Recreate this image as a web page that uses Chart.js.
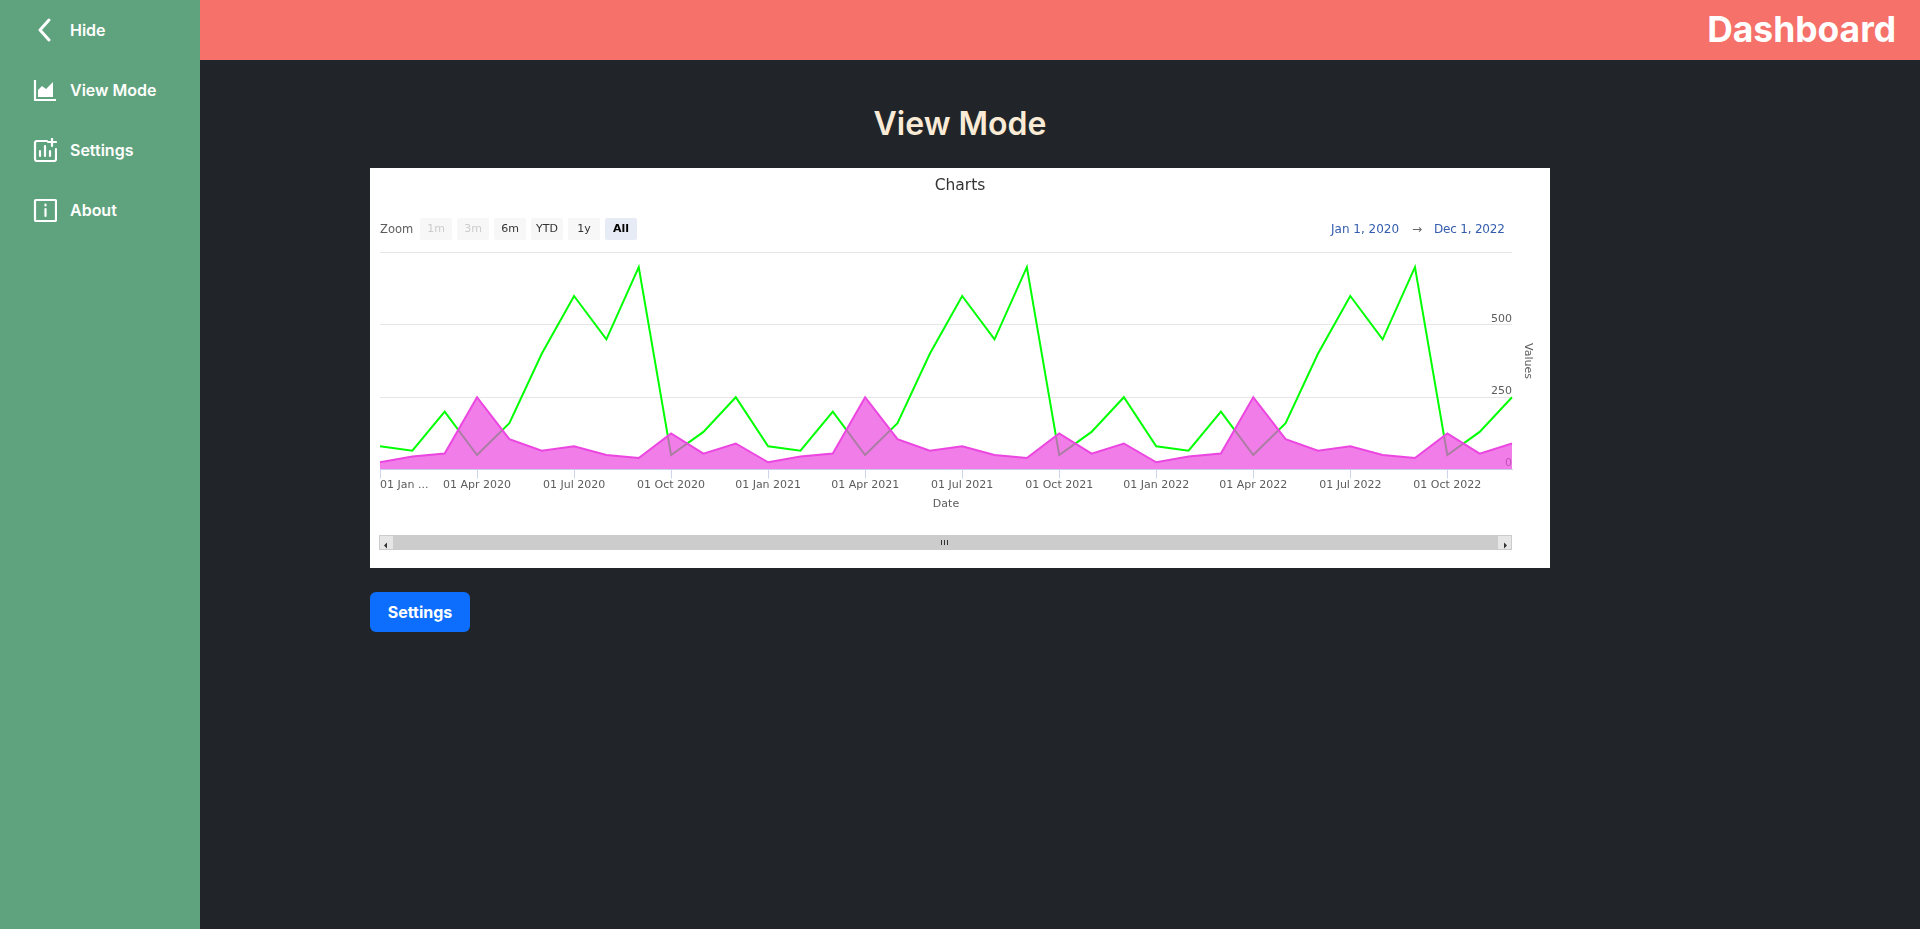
<!DOCTYPE html>
<html>
<head>
<meta charset="utf-8">
<title>Dashboard</title>
<script src="https://cdn.jsdelivr.net/npm/chart.js@4"></script>
<style>
  * { box-sizing: border-box; }
  html, body { margin: 0; height: 100%; overflow: hidden; background: #212529; font-family: Inter, sans-serif; }
  #sidebar { position: absolute; left: 0; top: 0; width: 200px; height: 929px; background: #5fa37e; }
  .nav { position: absolute; left: 0; width: 200px; height: 30px; color: #fff; font-size: 16px; font-weight: 600; line-height: 30px; padding-left: 70px; }
  .nav svg { position: absolute; left: 33px; top: 3px; width: 24px; height: 24px; fill: none; stroke: #fff; stroke-width: 2.2; stroke-linecap: round; stroke-linejoin: round; }
  #header { position: absolute; left: 200px; top: 0; width: 1720px; height: 60px; background: #f5716a; color: #fff; font-size: 35.4px; font-weight: 700; line-height: 60px; text-align: right; padding-right: 24px; }
  h1 { position: absolute; left: 200px; width: 1520px; top: 104px; margin: 0; text-align: center; color: #faebd7; font-size: 32px; font-weight: 600; line-height: 40px; }
  #box { position: absolute; left: 370px; top: 168px; width: 1180px; height: 400px; background: #fff; }
  #chart { position: absolute; left: 0; top: 0; }
  .rs { position: absolute; font: 11px "DejaVu Sans", sans-serif; }
  .zoomlabel { left: 10px; top: 50px; height: 22px; line-height: 22px; color: #5c5c5c; font-size: 11.5px; }
  .btn { top: 50px; width: 32px; height: 22px; line-height: 22px; text-align: center; background: #f7f7f7; color: #333; border-radius: 2px; }
  .btn.off { color: #ccc; }
  .btn.on { background: #e6ebf5; color: #000; font-weight: bold; }
  .date { top: 50px; height: 22px; line-height: 22px; color: #335cad; font-size: 12px; white-space: nowrap; }
  #track { position: absolute; left: 9px; top: 367px; width: 1133px; height: 15px; background: #ccc; border: 1px solid #ccc; }
  .sbtn { position: absolute; top: 0; width: 13px; height: 13px; background: #e6e6e6; }
  .grip { position: absolute; top: 4px; width: 1px; height: 5px; background: #333; }
  #settings { position: absolute; left: 370px; top: 592px; width: 100px; height: 40px; background: #0d6efd; color: #fff; border-radius: 6px; font-size: 16px; font-weight: 700; line-height: 40px; text-align: center; }
</style>
</head>
<body>
<div id="sidebar">
  <div class="nav" style="top:15px"><svg viewBox="0 0 24 24" style="stroke-width:3"><path d="M16 2 L7 12 L16 22"/></svg>Hide</div>
  <div class="nav" style="top:75px"><svg viewBox="0 0 24 24"><path d="M2 2 V22 H23" stroke-linecap="butt"/><path d="M5 19 V12 L9 8 L13 11 L20 4 V19 Z" fill="#fff" stroke="none"/></svg>View Mode</div>
  <div class="nav" style="top:135px"><svg viewBox="0 0 24 24"><path d="M14 3 H4 Q2 3 2 5 V21 Q2 23 4 23 H21 Q23 23 23 21 V11"/><path d="M7 18 V13 M12 18 V8 M17 18 V13"/><path d="M19 0 V8 M15 4 H23"/></svg>Settings</div>
  <div class="nav" style="top:195px"><svg viewBox="0 0 24 24"><rect x="2" y="2" width="21" height="21" rx="1"/><path d="M12.5 11 V18 M12.5 6.5 V7.5"/></svg>About</div>
</div>
<div id="header">Dashboard</div>
<h1>View Mode</h1>
<div id="box">
  <canvas id="chart" width="1180" height="400"></canvas>
  <div class="rs zoomlabel">Zoom</div>
  <div class="rs btn off" style="left:50px">1m</div>
  <div class="rs btn off" style="left:87px">3m</div>
  <div class="rs btn" style="left:124px">6m</div>
  <div class="rs btn" style="left:161px">YTD</div>
  <div class="rs btn" style="left:198px">1y</div>
  <div class="rs btn on" style="left:235px">All</div>
  <div class="rs date" style="left:961px">Jan 1, 2020</div>
  <div class="rs date" style="left:1042px;color:#666">→</div>
  <div class="rs date" style="left:1064px;letter-spacing:-0.2px">Dec 1, 2022</div>
  <div id="track">
    <div class="sbtn" style="left:0"><svg width="13" height="13"><path d="M4 6.5 L7 3.5 V9.5 Z" fill="#333"/></svg></div>
    <div class="sbtn" style="right:0"><svg width="13" height="13"><path d="M9 6.5 L6 3.5 V9.5 Z" fill="#333"/></svg></div>
    <div class="grip" style="left:561px"></div>
    <div class="grip" style="left:564px"></div>
    <div class="grip" style="left:567px"></div>
  </div>
</div>
<div id="settings">Settings</div>

<script>
// Values
const months = [
  '01 Jan 2020', '01 Feb 2020', '01 Mar 2020', '01 Apr 2020', '01 May 2020', '01 Jun 2020',
  '01 Jul 2020', '01 Aug 2020', '01 Sep 2020', '01 Oct 2020', '01 Nov 2020', '01 Dec 2020',
  '01 Jan 2021', '01 Feb 2021', '01 Mar 2021', '01 Apr 2021', '01 May 2021', '01 Jun 2021',
  '01 Jul 2021', '01 Aug 2021', '01 Sep 2021', '01 Oct 2021', '01 Nov 2021', '01 Dec 2021',
  '01 Jan 2022', '01 Feb 2022', '01 Mar 2022', '01 Apr 2022', '01 May 2022', '01 Jun 2022',
  '01 Jul 2022', '01 Aug 2022', '01 Sep 2022', '01 Oct 2022', '01 Nov 2022', '01 Dec 2022'
];
const lineValues = [
  80, 65, 200, 50, 160, 400, 600, 450, 700, 50, 130, 250,
  80, 65, 200, 50, 160, 400, 600, 450, 700, 50, 130, 250,
  80, 65, 200, 50, 160, 400, 600, 450, 700, 50, 130, 250
];
const areaValues = [
  25, 45, 55, 250, 105, 65, 80, 50, 40, 125, 55, 90,
  25, 45, 55, 250, 105, 65, 80, 50, 40, 125, 55, 90,
  25, 45, 55, 250, 105, 65, 80, 50, 40, 125, 55, 90
];
const valueTicks = [0, 250, 500];

const axisColor = '#5c5c5c';
const tickFont = { family: '"DejaVu Sans"', size: 11 };

new Chart(document.getElementById('chart'), {
  type: 'line',
  data: {
    labels: months,
    datasets: [
      {
        label: 'Area',
        data: areaValues,
        order: 1,
        fill: 'origin',
        borderColor: '#ec46e1',
        backgroundColor: 'rgba(236, 75, 225, 0.72)',
        borderWidth: 2,
        pointRadius: 0,
        tension: 0
      },
      {
        label: 'Line',
        data: lineValues,
        order: 2,
        fill: false,
        borderColor: '#00ff00',
        borderWidth: 2,
        pointRadius: 0,
        tension: 0
      }
    ]
  },
  options: {
    responsive: false,
    animation: false,
    layout: { padding: { left: 10, right: 10, top: 0, bottom: 57.5 } },
    plugins: {
      legend: { display: false },
      tooltip: { enabled: false },
      title: {
        display: true,
        text: 'Charts',
        color: '#333333',
        font: { family: '"DejaVu Sans"', size: 15.5, weight: 'normal' },
        padding: { top: 8.5, bottom: 57.5 }
      }
    },
    scales: {
      x: {
        type: 'category',
        offset: false,
        grid: {
          drawOnChartArea: false,
          drawTicks: true,
          tickLength: 9,
          // the last category only carries a blank label, so no mark there
          tickColor: (ctx) => (ctx.tick && ctx.tick.label === ' ' ? 'transparent' : '#ccd6eb')
        },
        border: { color: '#ccd6eb' },
        ticks: {
          autoSkip: false,
          maxRotation: 0,
          align: 'inner',
          padding: 0,
          color: axisColor,
          font: tickFont,
          callback: function (value, index) {
            if (index === months.length - 1) return ' ';
            if (index % 3 !== 0) return null;
            return index === 0 ? '01 Jan ...' : this.getLabelForValue(value);
          }
        },
        title: { display: true, text: 'Date', color: axisColor, font: tickFont, padding: { top: 5, bottom: 0 } },
        afterFit: (scale) => { scale.height = 41; }
      },
      y: {
        position: 'right',
        min: 0,
        max: 750,
        grid: { color: '#e6e6e6', drawTicks: false },
        border: { display: false },
        ticks: {
          stepSize: 250,
          mirror: true,
          padding: 0,
          labelOffset: -6,
          color: axisColor,
          font: tickFont,
          callback: (value) => (valueTicks.includes(value) ? String(value) : '')
        },
        title: { display: true, text: 'Values', color: axisColor, font: tickFont, padding: { top: 6, bottom: 0 } },
        afterFit: (scale) => { scale.width = 28; }
      }
    }
  }
});
</script>
</body>
</html>
